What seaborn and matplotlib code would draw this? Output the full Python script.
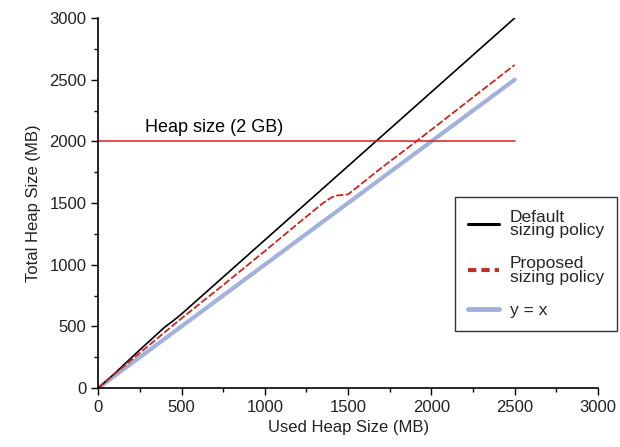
import matplotlib
matplotlib.use("Agg")
import matplotlib.pyplot as plt
from matplotlib.lines import Line2D
from matplotlib.ticker import MultipleLocator
import numpy as np
import pandas as pd
import seaborn as sns

# Heap growth under the default and proposed sizing policies
default_used = [0, 100, 250, 400, 450, 500, 1000, 1500, 2000, 2500]
default_total = [0, 120, 310, 495, 545, 600, 1200, 1800, 2400, 3000]

proposed_used = [0, 100, 250, 500, 750, 1000, 1200, 1350, 1400, 1430, 1500,
                 1700, 1910, 2200, 2500]
proposed_total = [0, 115, 285, 565, 835, 1110, 1335, 1500, 1545, 1560, 1570,
                  1785, 2000, 2305, 2620]

identity_used = [0, 2500]
identity_total = [0, 2500]

heap_limit = 2000
heap_limit_label = "Heap size (2 GB)"

sns.set_style("ticks")
plt.rcParams["font.family"] = ["Liberation Sans", "DejaVu Sans"]

fig = plt.figure(figsize=(6.2, 4.47), dpi=100)
ax = fig.add_axes([0.1585, 0.132, 0.806, 0.8277])

blue = "#a3b2dc"
red_line = "#d81e1e"
red_dash = "#c8281e"

sns.lineplot(x=identity_used, y=identity_total, ax=ax, color=blue, lw=3.0,
             legend=False)
sns.lineplot(x=default_used, y=default_total, ax=ax, color="black", lw=1.2,
             legend=False)
sns.lineplot(x=proposed_used, y=proposed_total, ax=ax, color=red_dash, lw=1.3,
             legend=False, dashes=False)
ax.lines[-1].set_dashes((4, 1.3))

ax.plot([0, 2500], [heap_limit, heap_limit], color=red_line, lw=1.1)
ax.text(280, heap_limit + 40, heap_limit_label, fontsize=13, color="black",
        ha="left", va="bottom")

ax.set_xlim(0, 3000)
ax.set_ylim(0, 3000)
ax.xaxis.set_major_locator(MultipleLocator(500))
ax.yaxis.set_major_locator(MultipleLocator(500))
ax.xaxis.set_minor_locator(MultipleLocator(250))
ax.yaxis.set_minor_locator(MultipleLocator(250))
ax.tick_params(which="major", length=5, width=1, labelsize=12, color="black",
               labelcolor="#222222", direction="out")
ax.tick_params(which="minor", length=3, width=1, color="black", direction="out")
ax.tick_params(axis="x", which="both", bottom=True)
ax.tick_params(axis="y", which="both", left=True)
sns.despine(ax=ax)
for s in ("left", "bottom"):
    ax.spines[s].set_color("black")
    ax.spines[s].set_linewidth(1.2)

ax.set_xlabel("Used Heap Size (MB)", fontsize=12, color="#222222", labelpad=4)
ax.set_ylabel("Total Heap Size (MB)", fontsize=12, color="#222222", labelpad=6)

handles = [
    Line2D([], [], color="black", lw=2.2),
    Line2D([], [], color="#c0302a", lw=3, dashes=(2.0, 1.2)),
    Line2D([], [], color=blue, lw=3.5),
]
labels = ["Default\nsizing policy", "Proposed\nsizing policy", "y = x"]
leg = fig.legend(handles, labels, loc="upper right",
                 bbox_to_anchor=(617 / 620, 1 - 197 / 447), frameon=True,
                 fancybox=False, fontsize=12.5, handlelength=1.8,
                 handletextpad=0.6, labelspacing=1.05, borderpad=0.75,
                 borderaxespad=0)
leg.get_frame().set_edgecolor("black")
leg.get_frame().set_linewidth(1.0)
for t in leg.get_texts():
    t.set_linespacing(0.85)

fig.savefig("out.png", dpi=100)
